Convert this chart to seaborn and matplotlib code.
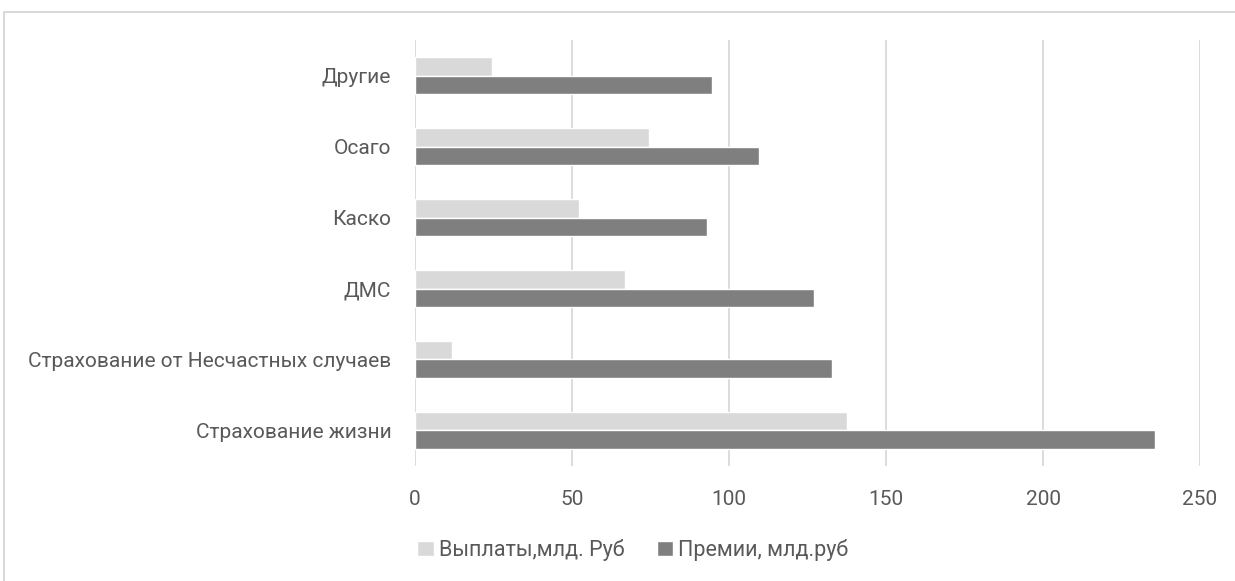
import matplotlib
matplotlib.use("Agg")
import matplotlib.pyplot as plt
from matplotlib.patches import Rectangle
import pandas as pd
import seaborn as sns

categories = ["Другие", "Осаго", "Каско", "ДМС",
              "Страхование от Несчастных случаев", "Страхование жизни"]
payouts = [24.4, 74.4, 52.2, 66.8, 11.9, 137.7]
premiums = [94.7, 109.5, 93.1, 127.1, 132.8, 235.5]
series_names = ["Выплаты,млд. Руб", "Премии, млд.руб"]
x_ticks = [0, 50, 100, 150, 200, 250]

df = pd.DataFrame({
    "category": categories * 2,
    "value": payouts + premiums,
    "series": [series_names[0]] * len(categories) + [series_names[1]] * len(categories),
})

sns.set_theme(style="white")
plt.rcParams["font.family"] = ["Roboto", "DejaVu Sans"]
text_color = "#595959"
grid_color = "#D9D9D9"

fig = plt.figure(figsize=(12.35, 5.81), dpi=100)
ax = fig.add_axes([0.336, 0.198, 0.9717 - 0.336, 0.931 - 0.198])

sns.barplot(data=df, x="value", y="category", hue="series", orient="h",
            order=categories, hue_order=series_names,
            palette=["#D9D9D9", "#7F7F7F"], width=0.52, gap=0,
            saturation=1, ax=ax, legend=True)

ax.set_xlim(0, 250)
ax.set_xticks(x_ticks)
ax.set_xlabel("")
ax.set_ylabel("")
ax.xaxis.grid(True, color=grid_color, linewidth=1.3)
ax.set_axisbelow(True)
for s in ax.spines.values():
    s.set_visible(False)
ax.tick_params(axis="x", length=0, pad=17, labelsize=15, labelcolor=text_color)
ax.tick_params(axis="y", length=0, pad=17, labelsize=15, labelcolor=text_color)

handles, labels = ax.get_legend_handles_labels()
ax.get_legend().remove()
fig.legend(handles, labels, loc="center", bbox_to_anchor=(633 / 1235, 1 - 550 / 581),
           ncol=2, frameon=False, fontsize=15.5, labelcolor=text_color,
           handlelength=0.75, handleheight=0.75, handletextpad=0.25,
           columnspacing=1.5)

fig.patches.append(Rectangle((0.003, -0.05), 1.2, 0.979 + 0.05, transform=fig.transFigure,
                             fill=False, edgecolor=grid_color, linewidth=1.5))

fig.savefig("out.png", dpi=100, facecolor="white")
